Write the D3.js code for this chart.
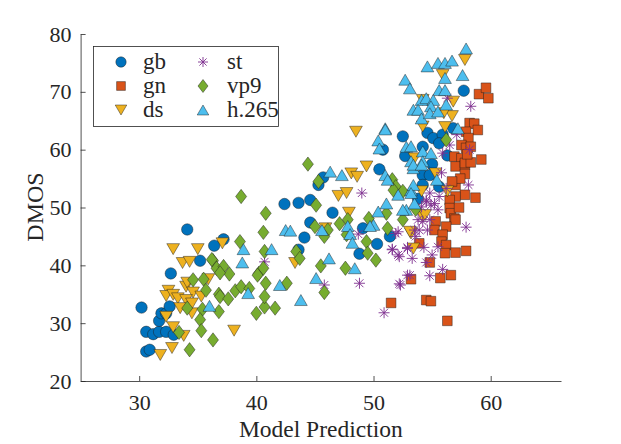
<!DOCTYPE html>
<html>
<head>
<meta charset="utf-8">
<script src="https://cdn.jsdelivr.net/npm/d3@7"></script>
<style>
  body { margin: 0; background: #fff; }
  text { font-family: "Liberation Serif", "Times New Roman", serif; fill: #262626; }
</style>
</head>
<body>
<div id="chart"></div>
<script>
// series data: [model prediction, DMOS]
const gb = [[30.2,32.7],[30.6,28.5],[31.2,28.1],[31.7,28.5],[32.3,28.5],[32.95,28.0],[30.6,25.1],[30.9,25.4],
  [31.7,30.4],[31.9,31.7],[32.3,31.7],[32.6,32.9],[32.7,38.6],[34.1,46.2],[35.2,40.8],[36.4,43.4],[37.2,44.5],
  [42.4,50.6],[43.6,50.8],[44.6,51.3],[44.1,44.8],[43.6,42.7],[45.3,53.9],[45.7,55.2],[46.5,49.1],[44.6,47.4],
  [48.8,42.0],[50.3,43.7],[49.1,46.4],[51.4,45.0],[52.5,62.3],[52.7,58.9],[50.8,60.0],[50.5,56.6],[54.6,62.9],
  [54.2,55.6],[57.7,70.2],[55.1,62.0],[55.9,62.6],[56.8,63.7],[54.2,60.5],[55.6,61.1],[54.8,55.6],[55.6,53.6],
  [54.2,53.9],[53.8,51.5],[55.0,57.5],[56.3,59.0]];
const gn = [[59.0,69.6],[59.6,70.7],[59.8,68.9],[58.2,64.6],[58.6,64.5],[58.9,63.4],[57.9,63.1],[58.1,62.0],
  [57.5,60.8],[57.9,60.3],[58.3,60.5],[59.2,58.3],[56.9,58.8],[57.5,58.5],[57.0,57.1],[57.8,57.4],[57.8,57.7],
  [58.3,57.8],[57.8,55.8],[57.0,53.9],[57.8,52.2],[57.0,51.9],[58.7,51.7],[56.5,51.3],[56.5,49.9],[56.6,49.0],
  [56.9,48.1],[57.0,47.9],[55.3,47.6],[56.2,46.7],[55.2,46.1],[55.9,45.3],[55.8,44.1],[56.2,43.5],[56.1,42.1],
  [57.0,42.2],[57.9,42.5],[53.9,43.8],[54.8,40.5],[56.6,38.3],[55.7,37.8],[53.2,37.6],[51.5,33.5],[54.5,34.0],
  [54.9,33.8],[56.3,30.4],[57.4,55.0],[58.0,59.2],[56.7,54.5],[57.3,50.0]];
const ds = [[32.9,42.8],[35.0,42.8],[33.7,40.4],[34.3,40.6],[37.1,43.8],[32.5,35.6],[32.3,34.7],[32.9,34.9],
  [33.3,34.3],[34.0,36.3],[34.1,37.0],[34.6,35.3],[35.3,34.6],[34.0,34.0],[34.5,33.4],[33.5,32.6],[32.3,31.1],
  [32.9,29.3],[33.8,27.8],[32.8,25.7],[31.8,24.5],[35.9,37.6],[38.1,28.7],[34.5,31.7],[43.3,40.4],[48.5,63.1],
  [49.4,57.1],[48.1,55.9],[48.6,55.3],[47.0,52.0],[47.7,52.5],[47.9,49.1],[45.9,46.4],[53.2,45.5],[53.4,42.9],
  [54.2,48.4],[57.8,75.5],[55.9,72.9],[56.8,68.3],[56.7,65.8],[54.2,64.0],[56.1,63.9],[56.0,66.3],[54.2,68.6],
  [53.5,58.5],[55.3,55.9],[54.1,52.8],[56.3,52.8],[54.4,48.7],[53.1,45.8]];
const st = [[57.9,46.6],[55.9,39.3],[54.8,38.2],[53.1,38.3],[52.3,36.6],[50.9,31.8],[51.6,42.7],[52.1,41.8],
  [52.9,43.1],[53.3,41.2],[54.3,43.1],[54.5,40.5],[55.0,41.8],[55.5,43.2],[54.6,46.1],[53.9,46.1],[53.6,45.0],
  [52.1,45.8],[54.8,47.9],[55.5,49.6],[54.2,47.6],[55.2,50.7],[55.6,51.9],[56.2,53.3],[58.1,53.9],[54.8,52.5],
  [54.5,51.0],[54.1,50.1],[56.3,68.9],[58.3,67.5],[56.5,60.8],[57.1,62.6],[58.2,60.0],[55.9,59.4],[49.0,52.5],
  [40.7,40.6],[45.8,36.6],[48.8,36.9],[48.7,45.4],[51.9,45.5],[51.6,42.8],[52.9,42.9],[52.2,41.5],[52.9,38.3],
  [52.2,36.8],[53.5,46.1],[53.8,47.9],[54.9,50.4],[54.5,51.3],[55.8,56.0]];
const vp9 = [[40.6,45.7],[38.6,44.1],[40.7,42.4],[40.2,38.6],[40.6,39.5],[40.8,36.9],[40.0,31.7],[40.7,32.8],
  [41.6,32.6],[40.7,34.6],[36.3,40.8],[36.6,39.5],[37.2,39.8],[37.7,38.5],[36.9,38.7],[34.6,37.5],[35.5,37.6],
  [35.7,35.7],[36.8,35.0],[36.9,34.6],[37.6,34.2],[36.8,32.0],[35.4,32.4],[35.2,30.6],[35.3,28.7],[36.3,27.1],
  [34.3,25.4],[34.1,32.6],[33.4,28.4],[38.2,35.6],[38.7,36.3],[39.4,36.0],[38.7,51.9],[40.8,49.0],[44.4,57.5],
  [43.4,42.4],[43.7,41.2],[42.6,36.9],[40.1,38.3],[45.3,54.5],[45.1,50.4],[45.0,46.7],[46.1,46.1],[45.8,45.0],
  [47.1,47.2],[47.8,47.9],[47.7,45.3],[49.6,48.1],[49.4,44.1],[51.2,46.4],[49.5,42.1],[50.2,40.9],[47.6,39.5],
  [45.5,39.9],[45.8,35.3],[51.6,54.8],[51.9,53.6],[51.7,53.0],[52.5,52.8],[53.6,49.7],[52.5,47.9],[51.1,49.0],
  [56.2,61.7],[36.2,41.0]];
const h265 = [[38.9,42.8],[41.3,42.8],[38.8,40.5],[36.0,33.0],[39.3,35.2],[42.0,36.6],[42.5,46.1],[42.9,46.0],
  [43.8,34.0],[51.0,63.7],[50.4,61.6],[52.8,60.5],[53.4,56.8],[51.0,55.6],[51.2,54.8],[46.3,56.2],[47.3,55.6],
  [52.1,52.2],[51.1,50.7],[50.4,49.3],[50.0,47.0],[49.7,46.8],[47.8,46.8],[48.0,45.4],[48.2,43.9],[45.6,46.1],
  [46.2,41.2],[45.1,37.8],[48.4,39.5],[52.8,49.6],[53.5,50.7],[53.2,53.0],[54.2,59.7],[57.9,77.5],[54.6,74.4],
  [55.5,75.0],[56.1,75.0],[56.7,75.4],[52.7,72.1],[53.1,70.6],[56.1,72.4],[57.6,72.9],[55.6,70.3],[56.1,70.3],
  [54.1,68.6],[54.5,68.9],[55.1,68.6],[54.9,67.5],[53.4,66.9],[53.8,66.9],[54.1,65.4],[54.8,66.3],[55.5,66.6],
  [56.2,67.8],[51.0,63.5],[57.2,63.7],[50.5,60.2],[53.2,60.6],[54.9,59.4],[53.2,58.0],[54.2,58.0],[53.4,53.9],
  [53.2,52.5],[52.5,49.6],[53.4,57.4],[54.1,57.4],[55.4,54.8]];

const names = ["gb", "gn", "ds", "st", "vp9", "h.265"];
const xTicks = [30, 40, 50, 60];
const yTicks = [20, 30, 40, 50, 60, 70, 80];

const width = 621, height = 444;
const svg = d3.select("#chart").append("svg")
    .attr("width", width)
    .attr("height", height);

const x = d3.scaleLinear().domain([25, 66]).range([80.6, 561]);
const y = d3.scaleLinear().domain([20, 80]).range([381, 34]);

// marker shapes, roughly the matlab ones
function markerPath(kind, s) {
    const p = d3.path();
    if (kind === "circle") {
        p.arc(0, 0, s * 0.52, 0, 2 * Math.PI);
    } else if (kind === "square") {
        const h = s * 0.44;
        p.rect(-h, -h, 2 * h, 2 * h);
    } else if (kind === "down") {
        const w = s * 0.58, t = s * 0.5;
        p.moveTo(-w, -t); p.lineTo(w, -t); p.lineTo(0, t); p.closePath();
    } else if (kind === "up") {
        const w = s * 0.58, t = s * 0.5;
        p.moveTo(-w, t); p.lineTo(w, t); p.lineTo(0, -t); p.closePath();
    } else if (kind === "diamond") {
        const w = s * 0.5, t = s * 0.65;
        p.moveTo(0, -t); p.lineTo(w, 0); p.lineTo(0, t); p.lineTo(-w, 0); p.closePath();
    } else if (kind === "star") {
        const r = s * 0.5, d = r * 0.72;
        p.moveTo(-r, 0); p.lineTo(r, 0);
        p.moveTo(0, -r); p.lineTo(0, r);
        p.moveTo(-d, -d); p.lineTo(d, d);
        p.moveTo(-d, d); p.lineTo(d, -d);
    }
    return p.toString();
}

const series = [
    {name: names[0], data: gb,   kind: "circle",  color: "#0072BD"},
    {name: names[1], data: gn,   kind: "square",  color: "#D95319"},
    {name: names[2], data: ds,   kind: "down",    color: "#EDB120"},
    {name: names[3], data: st,   kind: "star",    color: "#7E2F8E"},
    {name: names[4], data: vp9,  kind: "diamond", color: "#77AC30"},
    {name: names[5], data: h265, kind: "up",      color: "#4DBEEE"}
];

function styleMarker(sel, s) {
    if (s.kind === "star") {
        sel.style("fill", "none").style("stroke", s.color).style("stroke-width", 0.9);
    } else {
        sel.style("fill", s.color).style("stroke", "#1a1a1a").style("stroke-opacity", 0.75).style("stroke-width", 0.6);
    }
}

// points
series.forEach(s => {
    const g = svg.append("g").attr("class", "series-" + s.kind);
    g.selectAll("path").data(s.data).enter().append("path")
        .attr("transform", d => "translate(" + x(d[0]) + "," + y(d[1]) + ")")
        .attr("d", markerPath(s.kind, 11))
        .call(sel => styleMarker(sel, s));
});

// axes, ticks inward like matlab
const xAxis = svg.append("g")
    .attr("transform", "translate(0," + y(20) + ")")
    .call(d3.axisBottom(x).tickValues(xTicks).tickSizeInner(-5).tickSizeOuter(0).tickPadding(13));
const yAxis = svg.append("g")
    .attr("transform", "translate(" + x(25) + ",0)")
    .call(d3.axisLeft(y).tickValues(yTicks).tickSizeInner(-5).tickSizeOuter(0).tickPadding(9));

[xAxis, yAxis].forEach(a => {
    a.select(".domain").attr("stroke", "#262626").attr("stroke-width", 0.8);
    a.selectAll(".tick line").attr("stroke", "#262626").attr("stroke-width", 0.8);
    a.selectAll(".tick text")
        .style("font-family", "'Liberation Serif', serif")
        .style("font-size", "22px")
        .attr("fill", "#262626");
});

// axis labels
svg.append("text")
    .attr("x", 320.8)
    .attr("y", 437)
    .style("text-anchor", "middle")
    .style("font-size", "23.5px")
    .text("Model Prediction");

svg.append("text")
    .attr("transform", "translate(43,207) rotate(-90)")
    .style("text-anchor", "middle")
    .style("font-size", "24px")
    .text("DMOS");

// legend
const legend = svg.append("g").attr("class", "legend");
legend.append("rect")
    .attr("x", 93.5).attr("y", 46.5)
    .attr("width", 185).attr("height", 80)
    .style("fill", "#fff")
    .style("stroke", "#262626")
    .style("stroke-width", 0.8);

const colX = [121, 203], textX = [143, 227], rowY = [62, 86, 110];
series.forEach((s, i) => {
    const col = Math.floor(i / 3), row = i % 3;
    legend.append("path")
        .attr("transform", "translate(" + colX[col] + "," + rowY[row] + ")")
        .attr("d", markerPath(s.kind, 10))
        .call(sel => styleMarker(sel, s));
    legend.append("text")
        .attr("x", textX[col])
        .attr("y", rowY[row] + 7)
        .style("font-size", "23px")
        .text(s.name);
});
</script>
</body>
</html>
